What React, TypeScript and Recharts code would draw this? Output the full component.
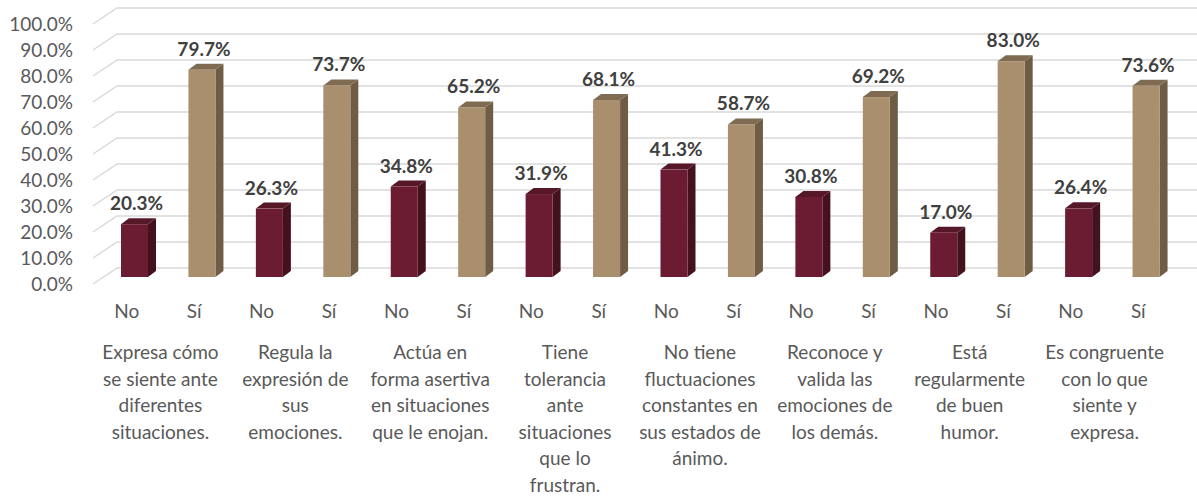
import React from "react";
import {
  BarChart,
  Bar,
  XAxis,
  YAxis,
  CartesianGrid,
  LabelList,
} from "recharts";

const groups = [
  "Expresa cómo\nse siente ante\ndiferentes\nsituaciones.",
  "Regula la\nexpresión de\nsus\nemociones.",
  "Actúa en\nforma asertiva\nen situaciones\nque le enojan.",
  "Tiene\ntolerancia\nante\nsituaciones\nque lo\nfrustran.",
  "No tiene\nfluctuaciones\nconstantes en\nsus estados de\nánimo.",
  "Reconoce y\nvalida las\nemociones de\nlos demás.",
  "Está\nregularmente\nde buen\nhumor.",
  "Es congruente\ncon lo que\nsiente y\nexpresa.",
];
const answers = ["No", "Sí"];
const noValues = [20.3, 26.3, 34.8, 31.9, 41.3, 30.8, 17.0, 26.4];
const siValues = [79.7, 73.7, 65.2, 68.1, 58.7, 69.2, 83.0, 73.6];
const yTicks = [0, 10, 20, 30, 40, 50, 60, 70, 80, 90, 100];

const data = groups.flatMap((g, i) => [
  { group: g, resp: answers[0], value: noValues[i] },
  { group: g, resp: answers[1], value: siValues[i] },
]);

const colors: Record<string, { front: string; side: string; top: string }> = {
  No: { front: "#6B1C32", side: "#44111F", top: "#561729" },
  Sí: { front: "#A98F6D", side: "#6E5C45", top: "#7F6B52" },
};

// depth offsets of the 3D look
const DX = 8;
const DY = -7;
const SIDE = 8;
const TOP = 6;
const WALL_X = 24;
const WALL_Y = -16;

const FONT = "Lato, 'Open Sans', sans-serif";

function Box3D(props: any) {
  const { x, y, width, height, payload } = props;
  const c = colors[payload.resp];
  const fx = x + DX;
  const fy = y + DY;
  const w = width;
  const h = height;
  return (
    <g>
      <polygon
        points={`${fx + w},${fy} ${fx + w + SIDE},${fy - TOP} ${fx + w + SIDE},${fy + h - TOP} ${fx + w},${fy + h}`}
        fill={c.side}
      />
      <polygon
        points={`${fx},${fy} ${fx + SIDE},${fy - TOP} ${fx + w + SIDE},${fy - TOP} ${fx + w},${fy}`}
        fill={c.top}
      />
      <rect x={fx} y={fy} width={w} height={h} fill={c.front} />
    </g>
  );
}

function ValueLabel(props: any) {
  const { x, y, width, value } = props;
  return (
    <text
      x={x + DX + width / 2 + 2}
      y={y + DY - 14}
      textAnchor="middle"
      fill="#404040"
      fontSize={19}
      fontWeight={700}
      fontFamily={FONT}
    >
      {Number(value).toFixed(1)}%
    </text>
  );
}

function RespTick(props: any) {
  const { x, y, payload } = props;
  return (
    <text
      x={x}
      y={y + 34}
      textAnchor="middle"
      fill="#595959"
      fontSize={19}
      fontFamily={FONT}
    >
      {payload.value}
    </text>
  );
}

function GroupTick(props: any) {
  const { x, y, payload } = props;
  const lines = String(payload.value).split("\n");
  return (
    <text textAnchor="middle" fill="#595959" fontSize={19} fontFamily={FONT}>
      {lines.map((l, i) => (
        <tspan key={i} x={x} y={y + 35 + i * 26.6}>
          {l}
        </tspan>
      ))}
    </text>
  );
}

function WallLine(props: any) {
  const { x1, y1, x2, key } = props;
  return (
    <path
      key={key}
      d={`M${x1},${y1} L${x1 + WALL_X},${y1 + WALL_Y} L${x2 + 25},${y1 + WALL_Y}`}
      stroke="#D9D9D9"
      strokeWidth={1.5}
      fill="none"
    />
  );
}

export default function App() {
  return (
    <div style={{ position: "absolute", left: 0, top: 0, background: "#fff" }}>
      <BarChart
        width={1197}
        height={498}
        data={data}
        margin={{ top: 24, right: 25, left: 0, bottom: 0 }}
        barSize={27}
      >
        <CartesianGrid
          vertical={false}
          horizontal={(p: any) => <WallLine {...p} />}
        />
        <XAxis
          dataKey="resp"
          xAxisId={0}
          axisLine={false}
          tickLine={false}
          tickSize={0}
          tickMargin={0}
          height={40}
          interval={0}
          tick={<RespTick />}
        />
        <XAxis
          dataKey="group"
          xAxisId="grp"
          allowDuplicatedCategory={false}
          axisLine={false}
          tickLine={false}
          tickSize={0}
          tickMargin={0}
          height={174}
          interval={0}
          tick={<GroupTick />}
        />
        <YAxis
          domain={[0, 100]}
          ticks={yTicks}
          interval={0}
          axisLine={false}
          tickLine={false}
          width={93}
          tickMargin={14}
          tickFormatter={(v: number) => v.toFixed(1) + "%"}
          tick={{ fill: "#595959", fontSize: 19, fontFamily: FONT }}
        />
        <Bar
          dataKey="value"
          xAxisId={0}
          shape={<Box3D />}
          isAnimationActive={false}
        >
          <LabelList dataKey="value" content={<ValueLabel />} />
        </Bar>
      </BarChart>
    </div>
  );
}
